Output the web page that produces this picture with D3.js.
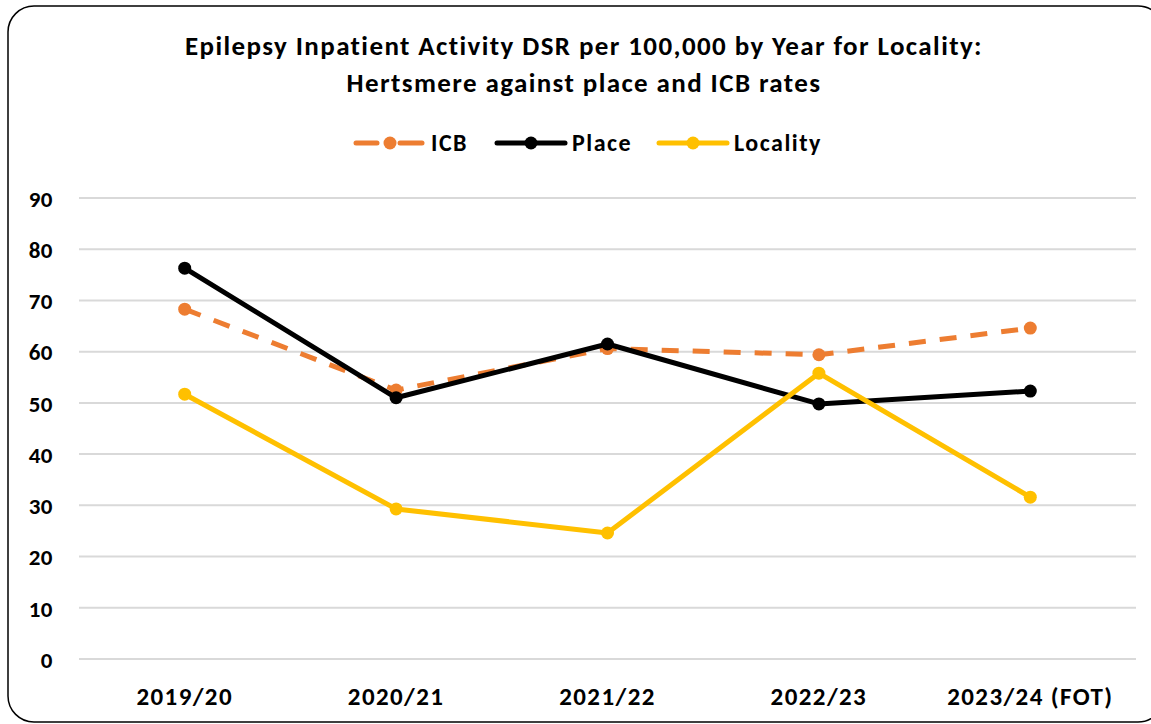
<!DOCTYPE html>
<html>
<head>
<meta charset="utf-8">
<script src="https://cdn.jsdelivr.net/npm/d3@7"></script>
<style>
  body { margin: 0; background: #fff; }
  svg text { font-family: Calibri, Carlito, Lato, "Open Sans", sans-serif; font-weight: bold; fill: #000; }
</style>
</head>
<body>
<div id="chart"></div>
<script>
// chart data
var years = ["2019/20", "2020/21", "2021/22", "2022/23", "2023/24 (FOT)"];
var icb = [68.3, 52.5, 60.6, 59.4, 64.6];
var place = [76.3, 51.0, 61.5, 49.8, 52.3];
var locality = [51.7, 29.3, 24.6, 55.8, 31.6];
var yTicks = [0, 10, 20, 30, 40, 50, 60, 70, 80, 90];

var series = [
  {name: "ICB", values: icb, color: "#ED7D31", dash: "17,14"},
  {name: "Place", values: place, color: "#000000", dash: null},
  {name: "Locality", values: locality, color: "#FFC000", dash: null}
];

var width = 1151, height = 724;

var svg = d3.select("#chart")
  .append("svg")
  .attr("width", width)
  .attr("height", height);

// rounded frame (right side runs off the picture)
svg.append("rect")
  .attr("x", 8)
  .attr("y", 6)
  .attr("width", 1156)
  .attr("height", 716)
  .attr("rx", 26)
  .attr("fill", "#fff")
  .attr("stroke", "#000")
  .attr("stroke-width", 1.5);

// title
var titleLines = ["Epilepsy Inpatient Activity DSR per 100,000 by Year for Locality:",
  "Hertsmere against place and ICB rates"];
svg.selectAll(".title")
  .data(titleLines)
  .enter()
  .append("text")
  .attr("class", "title")
  .attr("x", 584)
  .attr("y", (d, i) => 55 + i * 37)
  .attr("text-anchor", "middle")
  .attr("font-size", "27px")
  .attr("letter-spacing", "1.4px")
  .text(d => d);

var x = d3.scaleBand()
  .domain(years)
  .range([79, 1136]);

var y = d3.scaleLinear()
  .domain([0, 90])
  .range([659, 198]);

// gridlines
svg.append("g")
  .selectAll("line")
  .data(yTicks)
  .enter()
  .append("line")
  .attr("x1", 79)
  .attr("x2", 1136)
  .attr("y1", d => y(d))
  .attr("y2", d => y(d))
  .attr("stroke", "#d9d9d9")
  .attr("stroke-width", 2);

// y axis labels
var yAxis = svg.append("g")
  .attr("transform", "translate(53,0)")
  .call(d3.axisLeft(y).tickValues(yTicks).tickSize(0).tickPadding(0));
yAxis.select(".domain").remove();
yAxis.selectAll("text")
  .attr("font-size", "23px")
  .attr("letter-spacing", "0.5px")
  .attr("dy", "0.36em");

// x axis labels
var xAxis = svg.append("g")
  .attr("transform", "translate(0,687)")
  .call(d3.axisBottom(x).tickSize(0).tickPadding(0));
xAxis.select(".domain").remove();
xAxis.selectAll("text")
  .attr("font-size", "25px")
  .attr("letter-spacing", "1.4px");

var line = d3.line()
  .x((d, i) => x(years[i]) + x.bandwidth() / 2)
  .y(d => y(d));

series.forEach(function(s) {
  var g = svg.append("g");
  g.append("path")
    .datum(s.values)
    .attr("fill", "none")
    .attr("stroke", s.color)
    .attr("stroke-width", 5)
    .attr("stroke-linejoin", "round")
    .attr("stroke-dasharray", s.dash)
    .attr("d", line);
  g.selectAll("circle")
    .data(s.values)
    .enter()
    .append("circle")
    .attr("cx", (d, i) => x(years[i]) + x.bandwidth() / 2)
    .attr("cy", d => y(d))
    .attr("r", 6.5)
    .attr("fill", s.color);
});

// legend
var legendX = [356, 497, 659];
var legend = svg.append("g");
series.forEach(function(s, i) {
  var lg = legend.append("g").attr("transform", "translate(" + legendX[i] + ",143)");
  if (s.dash) {
    lg.append("line").attr("x1", 0).attr("x2", 21).attr("stroke", s.color).attr("stroke-width", 5).attr("stroke-linecap", "round");
    lg.append("line").attr("x1", 44).attr("x2", 66).attr("stroke", s.color).attr("stroke-width", 5).attr("stroke-linecap", "round");
  } else {
    lg.append("line").attr("x1", 0).attr("x2", 68).attr("stroke", s.color).attr("stroke-width", 5).attr("stroke-linecap", "round");
  }
  lg.append("circle").attr("cx", 34).attr("cy", 0).attr("r", 6.5).attr("fill", s.color);
  lg.append("text")
    .attr("x", 75).attr("y", 0).attr("dy", "0.35em")
    .attr("font-size", "24px")
    .attr("letter-spacing", "1.5px")
    .text(s.name);
});
</script>
</body>
</html>
